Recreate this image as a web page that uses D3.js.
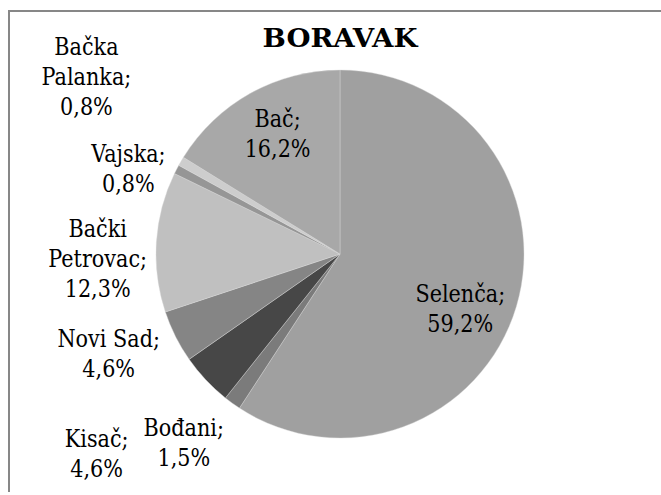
<!DOCTYPE html>
<html>
<head>
<meta charset="utf-8">
<script src="https://cdn.jsdelivr.net/npm/d3@7"></script>
<style>
    body { margin: 0; background: #fff; }
</style>
</head>
<body>
<div id="graph-container"></div>
<script>
const WIDTH = 661,
    HEIGHT = 495;

// Liberation Serif is not picked up here, DejaVu Serif is squeezed to look like Times
const FONT = "DejaVu Serif";
const SQUEEZE = 0.83;

// data
const categories = ["Selenča", "Bođani", "Kisač", "Novi Sad", "Bački Petrovac", "Vajska", "Bačka Palanka", "Bač"];
const values = [59.2, 1.5, 4.6, 4.6, 12.3, 0.8, 0.8, 16.2];
const labelLines = [
    ["Selenča;"],
    ["Bođani;"],
    ["Kisač;"],
    ["Novi Sad;"],
    ["Bački", "Petrovac;"],
    ["Vajska;"],
    ["Bačka", "Palanka;"],
    ["Bač;"]
];

const colors = ["#a0a0a0", "#7b7b7b", "#474747", "#858585", "#c0c0c0", "#969696", "#cdcdcd", "#a8a8a8"];

// label placement: radius factor along slice middle + small nudge
const labelRadius = [0.716, 1.33, 1.71, 1.37, 1.32, 1.24, 1.68, 0.735];
const labelNudge = [[-6, 17], [-13, -10], [-14, -16], [-6, -13.5], [0, 20.5], [-9, 19], [13.5, -22], [3.5, -2]];

const cx = 340,
    cy = 254,
    radius = 184,
    lineHeight = 30;

const svg = d3.select("#graph-container")
    .append("svg")
    .attr("width", WIDTH)
    .attr("height", HEIGHT);

// frame (only top and left edges visible)
svg.append("path")
    .attr("d", `M9,${HEIGHT - 3} V11 H${WIDTH}`)
    .attr("fill", "none")
    .attr("stroke", "#878787")
    .attr("stroke-width", 2);

const title = svg.append("text")
    .attr("text-anchor", "middle")
    .attr("font-family", FONT)
    .attr("font-size", 26)
    .attr("font-weight", "bold")
    .text("BORAVAK");

// fit title to the width seen in the original (~155px)
const titleScale = 155 / title.node().getComputedTextLength();
title.attr("transform", `translate(${cx}, 47) scale(${titleScale}, 1)`);

const pie = d3.pie()
    .sort(null)
    .value((d) => d);

const arcs = pie(values);

const arc = d3.arc()
    .innerRadius(0)
    .outerRadius(radius);

const g = svg.append("g")
    .attr("transform", `translate(${cx}, ${cy})`);

g.selectAll("path")
    .data(arcs)
    .join("path")
    .attr("d", arc)
    .attr("fill", (d, i) => colors[i])
    .attr("stroke", "#d8d8d8")
    .attr("stroke-width", 0.4);

g.selectAll("text.lbl")
    .data(arcs)
    .join("text")
    .attr("class", "lbl")
    .attr("text-anchor", "middle")
    .attr("font-family", FONT)
    .attr("font-size", 25)
    .each(function (d, i) {
        const mid = (d.startAngle + d.endAngle) / 2;
        const r = radius * labelRadius[i];
        const x = r * Math.sin(mid) + labelNudge[i][0];
        const y = -r * Math.cos(mid) + labelNudge[i][1];
        const lines = labelLines[i].concat([String(values[i]).replace(".", ",") + "%"]);
        const n = lines.length;
        const t = d3.select(this)
            .attr("transform", `translate(${x}, ${y}) scale(${SQUEEZE}, 1)`);
        lines.forEach((line, k) => {
            t.append("tspan")
                .attr("x", 0)
                .attr("y", 8.5 + (k - (n - 1) / 2) * lineHeight)
                .text(line);
        });
    });
</script>
</body>
</html>
